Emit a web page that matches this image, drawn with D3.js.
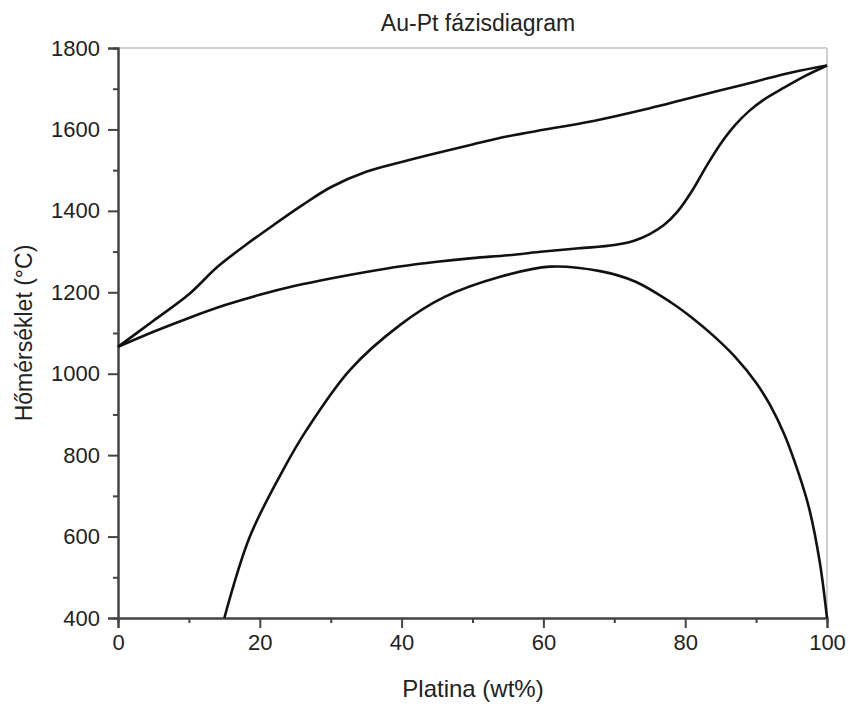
<!doctype html>
<html>
<head>
<meta charset="utf-8">
<script src="https://cdnjs.cloudflare.com/ajax/libs/d3/7.8.5/d3.min.js"></script>
<style>
  body { margin: 0; background: #fff; }
  svg text { font-family: "Liberation Sans", Arial, sans-serif; fill: #222; }
</style>
</head>
<body>
<svg id="chart" width="849" height="706"></svg>
<script>
// liquidus (upper curve), wt% Pt vs temperature
var liqX = [0, 5, 10, 14, 18, 22, 26, 30, 35, 40, 45, 50, 55, 60, 65, 70, 75, 80, 85, 90, 95, 100];
var liqT = [1066, 1130, 1195, 1262, 1316, 1366, 1414, 1458, 1496, 1520, 1542, 1563, 1583, 1599, 1614, 1632, 1652, 1674, 1696, 1718, 1740, 1757];

// solidus (middle curve)
var solX = [0, 5, 10, 15, 20, 25, 30, 35, 40, 45, 50, 55, 60, 65, 70, 73, 75, 77, 79, 81, 83, 85, 87, 89, 91, 94, 97, 100];
var solT = [1066, 1103, 1137, 1168, 1194, 1216, 1234, 1250, 1264, 1275, 1284, 1291, 1300, 1308, 1316, 1328, 1343, 1365, 1400, 1450, 1510, 1565, 1610, 1645, 1672, 1703, 1732, 1757];

// miscibility gap (lower dome)
var gapX = [15, 18.6, 23.3, 26.6, 32.7, 39.8, 46, 53.9, 60.9, 68, 73, 78, 81, 84, 87, 90, 92, 94, 96, 97.5, 99, 100];
var gapT = [400, 600, 764, 862, 1009, 1120, 1188, 1238, 1263, 1252, 1226, 1175, 1137, 1093, 1042, 978, 922, 850, 755, 668, 535, 400];

var xTicks = [0, 20, 40, 60, 80, 100];
var yTicks = [400, 600, 800, 1000, 1200, 1400, 1600, 1800];

var svg = d3.select("#chart");
var mLeft = 118, mRight = 827, mTop = 48, mBottom = 618;

var x = d3.scaleLinear().domain([0, 100]).range([mLeft, mRight]);
var y = d3.scaleLinear().domain([400, 1800]).range([mBottom, mTop]);

// light frame on top and right
svg.append("line").attr("x1", mLeft).attr("x2", mRight).attr("y1", mTop).attr("y2", mTop)
  .attr("stroke", "#cfcfcf").attr("stroke-width", 2);
svg.append("line").attr("x1", mRight).attr("x2", mRight).attr("y1", mTop).attr("y2", mBottom)
  .attr("stroke", "#cfcfcf").attr("stroke-width", 2);

// minor ticks first
var xMinor = d3.axisBottom(x).tickValues(d3.range(10, 100, 20)).tickSize(5).tickFormat("");
var yMinor = d3.axisLeft(y).tickValues(d3.range(500, 1800, 200)).tickSize(5).tickFormat("");
svg.append("g").attr("transform", "translate(0," + mBottom + ")").call(xMinor);
svg.append("g").attr("transform", "translate(" + mLeft + ",0)").call(yMinor);

var xAxis = d3.axisBottom(x).tickValues(xTicks).tickSize(10).tickPadding(6);
var yAxis = d3.axisLeft(y).tickValues(yTicks).tickSize(10).tickPadding(8).tickFormat(d3.format("d"));
svg.append("g").attr("transform", "translate(0," + mBottom + ")").call(xAxis);
svg.append("g").attr("transform", "translate(" + mLeft + ",0)").call(yAxis);

svg.selectAll(".domain, .tick line").attr("stroke", "#444").attr("stroke-width", 2);
svg.selectAll(".tick text").style("font-size", "22px").style("font-family", "Liberation Sans, Arial, sans-serif").attr("fill", "#222");

// curves
var line = d3.line()
  .x(function(d) { return x(d[0]); })
  .y(function(d) { return y(d[1]); })
  .curve(d3.curveCatmullRom.alpha(0.5));

function pairs(xs, ts) { return xs.map(function(v, i) { return [v, ts[i]]; }); }

[pairs(liqX, liqT), pairs(solX, solT), pairs(gapX, gapT)].forEach(function(p) {
  svg.append("path").datum(p).attr("d", line)
    .attr("fill", "none").attr("stroke", "#111").attr("stroke-width", 2.6);
});

// titles
svg.append("text").attr("x", 478).attr("y", 31).attr("text-anchor", "middle")
  .style("font-size", "23px").text("Au-Pt fázisdiagram");
svg.append("text").attr("x", 473).attr("y", 697).attr("text-anchor", "middle")
  .style("font-size", "24px").text("Platina (wt%)");
svg.append("text").attr("transform", "translate(32," + ((mTop + mBottom) / 2) + ") rotate(-90)")
  .attr("text-anchor", "middle").style("font-size", "23px").text("Hőmérséklet (°C)");
</script>
</body>
</html>
